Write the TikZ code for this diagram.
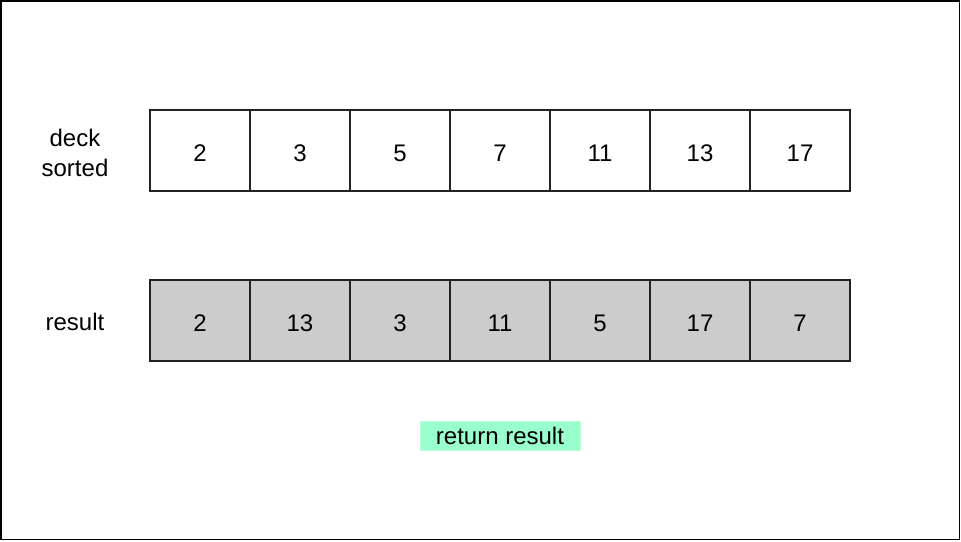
\documentclass[tikz,border=0pt]{standalone}
\usepackage{fontspec}
\setmainfont{Liberation Sans}
\definecolor{cellgray}{RGB}{204,204,204}
\definecolor{mint}{RGB}{153,255,204}
\definecolor{edge}{RGB}{34,34,34}
\begin{document}
\begin{tikzpicture}[x=1pt,y=-1pt,
  txt/.style={font=\fontsize{24}{30}\selectfont, text=black},
  cell/.style={txt, draw=edge, line width=1.6pt, minimum width=100pt, minimum height=81pt, inner sep=0pt, anchor=center, text height=21pt, text depth=0pt},
  graycell/.style={cell, fill=cellgray},
  lbl/.style={txt, align=center, inner sep=0pt},
  tag/.style={txt, fill=mint, draw=mint!70!white, line width=0.8pt, minimum width=160pt, minimum height=29pt, inner sep=0pt}]
\useasboundingbox (0,0) rectangle (961,541);
\draw[line width=1.5pt, black] (0.75,0.75) rectangle (959.5,539.5);

\node[lbl] (lt) at (75,153) {deck\\sorted};
\node[lbl] (lb) at (75,322) {result};

\foreach \v [count=\i from 0] in {2,3,5,7,11,13,17} {
  \node[cell] (t\i) at (200+100*\i,150.5) {\v};
}
\foreach \v [count=\i from 0] in {2,13,3,11,5,17,7} {
  \node[graycell] (b\i) at (200+100*\i,320.5) {\v};
}
\node[tag] (ret) at (500,435.5) {return result};
\end{tikzpicture}
\end{document}
